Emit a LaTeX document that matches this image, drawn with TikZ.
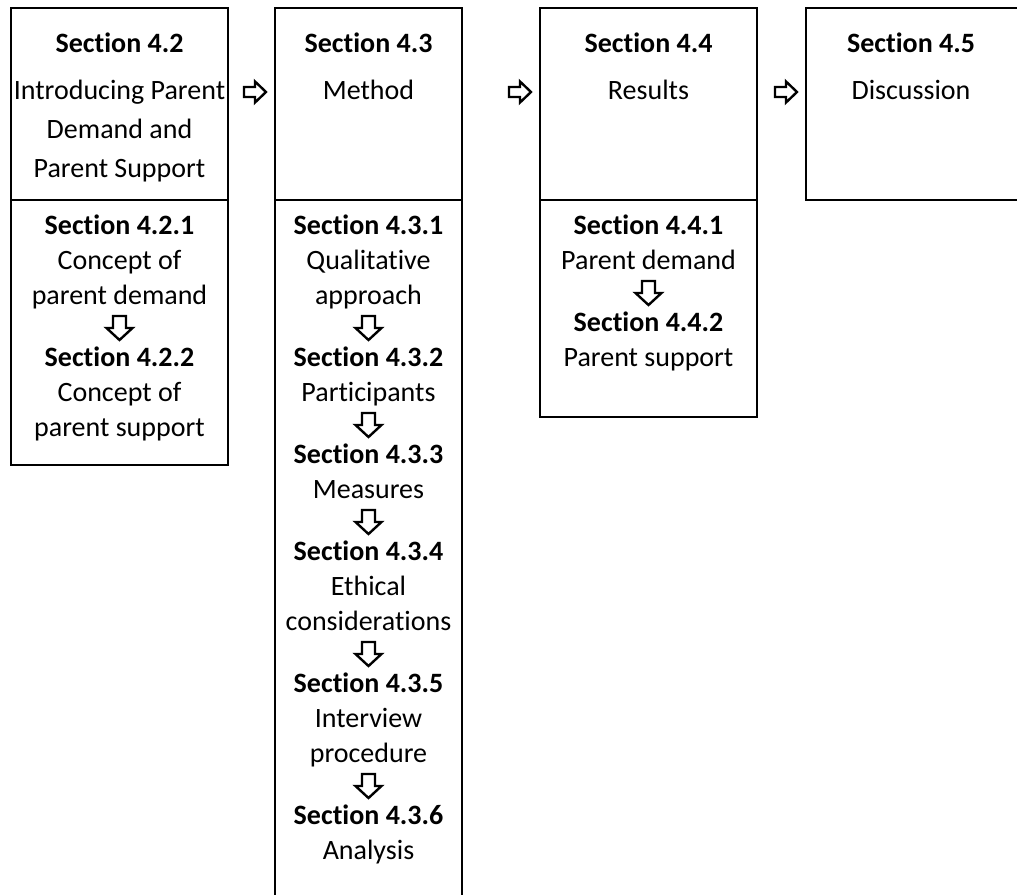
\documentclass[tikz,border=0pt]{standalone}
\usepackage{fontspec}
\setmainfont{Carlito}[RawFeature={-liga;-clig;-calt;-dlig}]
\usetikzlibrary{calc,positioning}
\begin{document}
\begin{tikzpicture}[x=1pt,y=-1pt,
  box/.style={draw, line width=2.8pt, anchor=north west, inner sep=0pt, outer sep=0pt},
  txt/.style={align=center, inner sep=0pt, outer sep=0pt, font=\fontsize{28}{35}\selectfont},
  hdesc/.style={align=center, inner sep=0pt, outer sep=0pt, font=\fontsize{28}{39}\selectfont},
  htitle/.style={inner sep=0pt, outer sep=0pt, anchor=base, font=\fontsize{28}{35}\selectfont\bfseries},
  blockarrow/.style={draw, line width=2.4pt, fill=white, line join=miter},
  downarr/.pic={\path[blockarrow] (-6.5,-12) -- (6.5,-12) -- (6.5,0) -- (13,0) -- (0,12) -- (-13,0) -- (-6.5,0) -- cycle;},
  rightarr/.pic={\path[blockarrow] (-11,-5) -- (0,-5) -- (0,-10.5) -- (11,0) -- (0,10.5) -- (0,5) -- (-11,5) -- cycle;}
]
\useasboundingbox (0,0) rectangle (1017,894);
\clip (0,0) rectangle (1017,894);

% boxes
\node[box, minimum width=217pt, minimum height=192pt] (b1) at (11,8) {};
\node[box, minimum width=217pt, minimum height=265pt] (b1l) at (11,200) {};
\node[box, minimum width=187pt, minimum height=192pt] (b2) at (275,8) {};
\node[box, minimum width=187pt, minimum height=760pt] (b2l) at (275,200) {};
\node[box, minimum width=217pt, minimum height=192pt] (b3) at (540,8) {};
\node[box, minimum width=217pt, minimum height=217pt] (b3l) at (540,200) {};
\node[box, minimum width=280pt, minimum height=192pt] (b4) at (806,8) {};

% headers
\node[htitle] (h1) at (119.5,52) {Section 4.2};
\node[hdesc, anchor=north] (d1) at (119.5,72) {\strut Introducing Parent\\Demand and\\Parent Support};
\node[htitle] (h2) at (368.5,52) {Section 4.3};
\node[hdesc, anchor=north] (d2) at (368.5,72) {\strut Method};
\node[htitle] (h3) at (648.5,52) {Section 4.4};
\node[hdesc, anchor=north] (d3) at (648.5,72) {\strut Results};
\node[htitle] (h4) at (911,52) {Section 4.5};
\node[hdesc, anchor=north] (d4) at (911,72) {\strut Discussion};

% right arrows between columns
\pic at ($(b2.west)+(-20,-12)$) {rightarr};
\pic at ($(b3.west)+(-20,-12)$) {rightarr};
\pic at ($(b4.west)+(-20,-12)$) {rightarr};

% column 1
\node[txt, anchor=north] (s421) at (119.5,209.5) {\textbf{Section 4.2.1}\strut\\Concept of\\parent demand\strut};
\node[txt, below=27pt of s421] (s422) {\textbf{Section 4.2.2}\strut\\Concept of\\parent support\strut};
\pic at ($(s421.south)!0.5!(s422.north)$) {downarr};

% column 2
\node[txt, anchor=north] (s431) at (368.5,209.5) {\textbf{Section 4.3.1}\strut\\Qualitative\\approach\strut};
\node[txt, below=27pt of s431] (s432) {\textbf{Section 4.3.2}\strut\\Participants\strut};
\node[txt, below=27pt of s432] (s433) {\textbf{Section 4.3.3}\strut\\Measures\strut};
\node[txt, below=27pt of s433] (s434) {\textbf{Section 4.3.4}\strut\\Ethical\\considerations\strut};
\node[txt, below=27pt of s434] (s435) {\textbf{Section 4.3.5}\strut\\Interview\\procedure\strut};
\node[txt, below=27pt of s435] (s436) {\textbf{Section 4.3.6}\strut\\Analysis\strut};
\pic at ($(s431.south)!0.5!(s432.north)$) {downarr};
\pic at ($(s432.south)!0.5!(s433.north)$) {downarr};
\pic at ($(s433.south)!0.5!(s434.north)$) {downarr};
\pic at ($(s434.south)!0.5!(s435.north)$) {downarr};
\pic at ($(s435.south)!0.5!(s436.north)$) {downarr};

% column 3
\node[txt, anchor=north] (s441) at (648.5,209.5) {\textbf{Section 4.4.1}\strut\\Parent demand\strut};
\node[txt, below=27pt of s441] (s442) {\textbf{Section 4.4.2}\strut\\Parent support\strut};
\pic at ($(s441.south)!0.5!(s442.north)$) {downarr};
\end{tikzpicture}
\end{document}
